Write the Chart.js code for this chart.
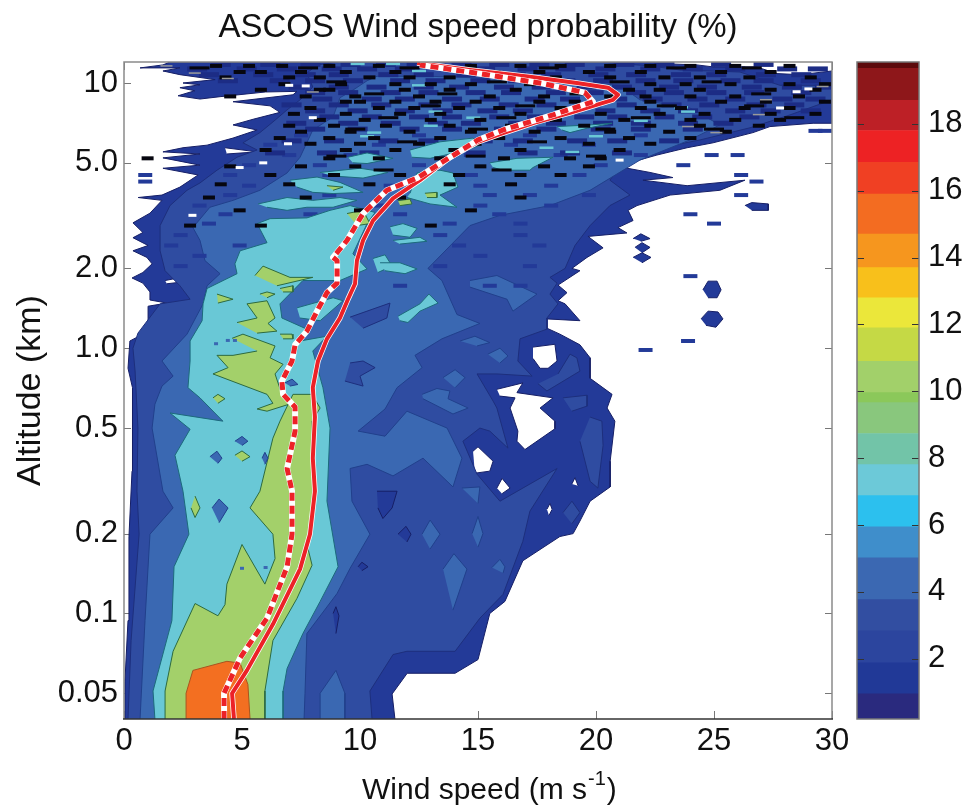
<!DOCTYPE html>
<html><head><meta charset="utf-8">
<style>html,body{margin:0;padding:0;background:#fff;overflow:hidden}canvas{position:absolute;top:0}</style>
<script src="https://cdn.jsdelivr.net/npm/chart.js@4"></script>
</head><body>
<canvas id="main" width="965" height="809" style="left:0"></canvas>
<canvas id="bar" width="115" height="809" style="left:850px"></canvas>
<script>
// ---------- axis labels ----------
const titleText = 'ASCOS Wind speed probability (%)';
const xTitleMain = 'Wind speed (m s';
const xTitleSup = '-1';
const xTitleEnd = ')';
const yTitle = 'Altitude (km)';
const altitudeTicks = [0.05,0.1,0.2,0.5,1,2,5,10];
const altitudeLabels = ['0.05','0.1','0.2','0.5','1.0','2.0','5.0','10'];
const windTicks = [0,5,10,15,20,25,30];

// ---------- colour bar ----------
const barBounds = [0.2,0.95,1.88,2.84,3.77,5.02,5.95,6.88,7.81,8.74,9.66,9.96,10.9,11.9,12.8,13.7,14.7,15.9,16.85,17.8,18.7,19.66,19.85];
const barColors = ['#2a2a7e','#213997','#2c459e','#324ea1','#3b68b2','#3f8ecb','#2cc0ee','#6cc9d8','#72c4a8','#89c77d','#8bc85a','#a2d06a','#c5d945','#ebe73a','#f8c01b','#f6961e','#f36c21','#f04023','#ed2224','#bd2026','#8e171a','#5c0a0c'];
const barTicks = [2,4,6,8,10,12,14,16,18];

// ---------- mean wind profiles [wind m/s, altitude km] ----------
const solidProfile = [[4.66,.04],[4.58,.05],[5.21,.061],[6.31,.091],[7.46,.147],[7.88,.199],[8.09,.289],[8,.385],[8.09,.55],[8,.71],[8.22,.895],[8.6,1.085],[9.15,1.3],[9.49,1.53],[9.79,1.75],[9.87,2.14],[10.13,2.55],[10.55,3.03],[11.4,3.67],[12.54,4.3],[13.81,5.25],[15,6],[16.06,6.47],[17.5,7.13],[18.9,7.72],[20.72,8.64],[20.93,9.03],[20.51,9.6],[19.19,10],[17.2,10.55],[14.66,11.2],[12.42,11.9]];
const dashedProfile = [[4.24,.04],[4.24,.05],[4.92,.068],[6.06,.096],[6.91,.15],[7.12,.199],[7.12,.289],[6.91,.352],[7.25,.487],[7.25,.6],[6.74,.67],[6.69,.752],[7.12,.895],[7.25,1.03],[7.75,1.16],[8.18,1.38],[8.6,1.62],[9.03,1.76],[9.03,2.14],[8.86,2.2],[9.45,2.55],[10.13,3.22],[11.14,3.94],[12.42,4.38],[13.39,4.97],[15,6.1],[16.06,6.65],[18.18,7.58],[19.87,8.5],[19.53,9.2],[17.75,9.95],[15.38,10.75],[12.54,11.7]];

// ---------- contour outlines [wind m/s, altitude km] ----------
const level1 = [[0,.04],[.04,.0555],[.17,.094],[.21,.195],[.34,.344],[.38,.5],[.34,.71],[.17,.84],[.25,1.065],[.8,1.13],[1.02,1.27],[1.02,1.44],[1.82,1.48],[1.1,1.52],[1.1,1.63],[.8,1.76],[.34,1.84],[.8,1.93],[1.19,2.08],[.97,2.2],[.38,2.33],[1.02,2.44],[.38,2.61],[.8,2.73],[.38,2.97],[1.1,3.23],[1.61,3.61],[.6,3.7],[1.61,3.78],[2.37,4.05],[3.14,4.5],[1.65,4.77],[3.22,4.9],[1.65,5.22],[3.22,5.4],[1.65,5.5],[2.5,5.7],[3.52,5.83],[4.62,6.2],[5.64,6.65],[4.62,6.95],[5.47,7.3],[6.61,7.75],[6.19,8.2],[4.62,8.5],[7.16,9.03],[7.33,9.3],[6,9.25],[4.07,8.88],[3.22,8.7],[2.29,8.95],[3,9.35],[2.37,9.6],[3.22,9.85],[2.5,10],[3.86,10.3],[2.37,10.75],[1.65,11.1],[2.37,11.4],[.68,11.4],[1.65,11.7],[1.95,12],[22.58,12],[22.58,11.85],[24.28,11.7],[24.96,11.5],[26.8,11.5],[27.67,10.85],[28.64,10.75],[30,11.1],[30,7.05],[29.2,7.05],[27.37,6.85],[26.65,6.5],[24.96,5.95],[23.86,5.7],[22.58,5.35],[20.89,4.85],[22.29,4.6],[23.26,4.4],[21.99,4.3],[23.86,4.1],[26.31,4.3],[25.25,3.94],[23.14,3.78],[21.74,3.45],[21.36,3.31],[21.57,3.03],[20.93,2.85],[21.31,2.72],[19.66,2.64],[20.3,2.39],[19.62,2.2],[18.98,2],[19.32,1.96],[18.39,1.73],[18.77,1.62],[18.39,1.51],[18.69,1.47],[19.32,1.27],[17.92,1.29],[17.92,1.19],[18.47,1.13],[19.32,1.03],[19.75,.92],[19.75,.77],[20.68,.67],[20.47,.595],[20.8,.531],[20.6,.375],[20.6,.3],[19.75,.265],[19.32,.223],[19.03,.2],[18.47,.195],[16.9,.158],[16.14,.111],[15.5,.1],[15,.067],[14.03,.0595],[12,.0595],[11.36,.0497],[11.48,.04]];
const level1Blobs = [
 [[24.53,1.66],[24.75,1.79],[25.13,1.79],[25.3,1.66],[25.13,1.55],[24.75,1.55]],
 [[24.45,1.29],[24.75,1.38],[25.17,1.37],[25.38,1.29],[25.08,1.2],[24.66,1.22]],
 [[21.57,2.59],[21.9,2.7],[22.29,2.59],[21.9,2.53]],
 [[21.65,2.4],[21.95,2.5],[22.29,2.4],[21.95,2.29]],
 [[21.57,2.2],[21.95,2.29],[22.33,2.2],[21.95,2.1]],
 [[26.31,3.45],[26.6,3.54],[27.3,3.5],[27.3,3.31],[26.6,3.31]]
];
const emptyHoles = [
 [[17.33,1.01],[18.26,1.035],[18.35,.895],[17.97,.84],[17.63,.84],[17.33,.915]],
 [[15.8,.7],[16.9,.74],[16.65,.68],[18.18,.65],[17.63,.595],[18.26,.531],[18.26,.497],[16.99,.415],[16.65,.446],[16.69,.487],[16.36,.595],[16.57,.65],[15.93,.66]],
 [[14.79,.409],[15,.425],[15.64,.375],[15.5,.344],[14.87,.338]],
 [[15.8,.297],[16.02,.323],[16.36,.297],[16.02,.283]],
 [[18.98,.308],[19.11,.325],[19.24,.303]],
 [[17.92,.247],[18.05,.26],[18.14,.247],[18.01,.234]],
 [[1.74,1.8],[2.29,1.84],[2.29,1.77],[1.82,1.75]],
 [[4.28,5.7],[5.64,5.5],[4.36,5.4]]
];
const level2 = [[.17,.04],[.3,.079],[.64,.199],[.55,.289],[.59,.5],[.47,.82],[.38,1],[.59,1.14],[1.53,1.47],[2.8,1.53],[2.37,1.72],[1.74,1.96],[1.53,2.33],[1.53,2.9],[1.95,3.45],[2.67,3.94],[3.22,4.2],[3.94,4.69],[4.79,5.25],[5.64,5.59],[5.04,5.95],[5.76,6.5],[6.31,7.13],[6.91,7.92],[7.46,8.64],[8,9.65],[7.75,10.9],[8.18,11.7],[9.15,12],[20.17,12],[22.29,11.6],[23.56,11.2],[26.1,11],[27.8,9.8],[30,9.8],[30,8.64],[28.22,7.58],[26.53,6.78],[24.41,6.1],[22.29,5.59],[21.02,4.9],[20.59,4.3],[21.44,3.78],[20.59,3.45],[19.75,2.9],[19.11,2.44],[18.69,2],[18.05,1.85],[18.35,1.76],[18.05,1.6],[18.39,1.47],[17.92,1.3],[17.92,1.18],[16.78,1.085],[16.69,.895],[17.29,.785],[15.8,.8],[14.96,.8],[15.64,.632],[15.8,.595],[16.27,.42],[15.5,.487],[15.08,.5],[14.36,.446],[14.96,.335],[15.93,.265],[18.35,.352],[17.2,.243],[16.9,.187],[16.06,.118],[15.08,.096],[14.03,.072],[11.99,.072],[11.4,.07],[10.42,.051],[10.51,.04]];
const level2Patches = [
 [[19.75,.55],[20.25,.531],[20.3,.43],[20.08,.297],[19.75,.315],[19.32,.446]],
 [[17.54,.735],[17.92,.69],[19.32,.82],[19.19,.92],[18.9,.95],[18.39,.8]],
 [[18.6,.65],[19.62,.665],[19.62,.605],[18.98,.579]],
 [[18.6,.24],[18.98,.265],[19.32,.24],[18.98,.218]]
];
const level1Islands = [
 [[10.72,.289],[11.57,.289],[11.36,.25],[10.97,.228],[10.76,.25]],
 [[11.14,.446],[11.69,.477],[12.33,.409],[11.99,.357],[11.48,.393]],
 [[11.61,.199],[11.95,.213],[12.16,.199],[11.99,.186]],
 [[9.92,.15],[10.08,.156],[10.34,.15],[10.08,.145]],
 [[8.86,.1],[8.98,.106],[9.11,.098],[8.98,.084]]
];
const level3 = [[.68,.04],[.89,.094],[1.1,.199],[2.08,.25],[1.65,.289],[1.19,.5],[1.31,.615],[1.61,.72],[2.08,.785],[1.61,.895],[2.67,1.13],[3.35,1.47],[3.52,1.72],[4.07,1.91],[3.43,2.14],[3.22,2.55],[2.92,2.85],[3.64,3.4],[4.62,3.61],[5.76,3.94],[6.91,4.58],[7.46,5.25],[8,6.65],[8.86,7.45],[9.15,8.8],[9.7,9.4],[10.3,10.2],[10.72,10.6],[12.97,10.6],[18.47,10.2],[21.02,9.8],[21.86,8.64],[23.98,8.05],[25.25,6.95],[23.98,6.1],[21.86,5.12],[19.75,3.94],[18.05,3.45],[15.93,3.17],[14.66,2.9],[12.88,2],[13.47,1.8],[14.11,1.34],[15.08,1.24],[13.47,1.085],[12.33,.94],[12.63,.845],[11.57,.71],[11.06,.59],[9.92,.487],[11.06,.466],[11.99,.579],[13.69,.5],[14.32,.385],[13.94,.3],[12.67,.385],[11.4,.33],[10.3,.365],[9.58,.352],[9.66,.265],[10.42,.199],[9.58,.148],[9.03,.119],[7.75,.084],[7.67,.05],[7.63,.04]];
const level3Patches = [
 [[8.31,.04],[8.31,.05],[8.98,.061],[9.36,.05],[9.36,.04]],
 [[14.66,1.8],[15.8,1.88],[17.5,1.6],[16.48,1.38],[16.23,1.53],[14.66,1.7]],
 [[13.52,.775],[14.03,.83],[14.45,.775],[14.03,.71]],
 [[15.42,.95],[15.93,1],[16.27,.935],[15.93,.88]],
 [[12.63,.67],[13.26,.705],[13.81,.69],[13.73,.645],[14.58,.595],[13.94,.565],[12.67,.645]],
 [[14.24,1.065],[14.87,1.11],[15.5,1.05],[14.96,1.02]],
 [[14.32,.297],[15.08,.3],[15,.26]],
 [[12.63,.199],[12.97,.225],[13.39,.199],[12.97,.175]],
 [[14.75,.2],[15,.232],[15.21,.2],[15,.178]],
 [[13.52,.147],[13.98,.168],[14.53,.147],[13.94,.103]],
 [[15.59,.149],[15.93,.16],[16.14,.15],[16.06,.142]]
];
const level2Islands = [
 [[9.58,1.31],[11.27,1.48],[11.14,1.3],[10.13,1.19]],
 [[9.58,.88],[10.13,.895],[10.64,.845],[10,.785],[10.13,.72],[9.36,.752]]
];
const level4 = [[1.31,.04],[1.23,.051],[2.03,.094],[2.12,.15],[2.75,.199],[2.5,.289],[2.16,.395],[2.8,.495],[1.95,.57],[4.19,.531],[3.22,.65],[2.71,.71],[2.8,.895],[2.8,1.065],[3.31,1.27],[3.35,1.47],[3.52,1.68],[4.79,1.91],[4.7,2.08],[4.92,2.33],[6.06,2.5],[5.64,2.95],[6.19,3.08],[7.75,3.1],[8.73,3.31],[9.58,3.45],[10.64,3.25],[10.3,2.95],[9.7,2.27],[10.3,1.99],[9.15,1.8],[7.58,1.8],[6.61,1.47],[6.69,1.3],[7.75,1.18],[7.46,1.065],[8.6,1.11],[8,.976],[8.43,.71],[8.73,.5],[8.6,.265],[9.07,.15],[8.31,.111],[7.58,.084],[6.91,.062],[6.74,.051],[6.74,.04]];
const level4Patches = [
 [[7.03,4.3],[8.18,4.42],[9.15,4.22],[10.13,3.87],[8.86,3.83],[8,3.87],[7.33,4.05]],
 [[8.31,4.6],[10,4.77],[11.19,4.6],[10.13,4.38],[8.86,4.46]],
 [[9.49,5.25],[10.3,5.45],[11.4,5.2],[10.3,4.97],[9.7,5]],
 [[5.68,3.5],[6.91,3.7],[8,3.61],[9.15,3.7],[9.87,3.61],[8.86,3.4],[7.75,3.4],[6.91,3.31],[6.06,3.4]],
 [[12.12,5.59],[13.39,6],[14.79,6.2],[15.08,5.82],[14.24,5.5],[12.97,5.2],[12.2,5.25]],
 [[15.5,5],[16.65,5.2],[18.18,5.25],[17.33,4.8],[17.2,4.69],[16.06,4.69],[15.64,4.8]],
 [[12.12,3.84],[12.42,4.58],[13.39,4.69],[13.94,4.58],[14.15,4.05],[13.39,3.78],[14.11,3.4],[12.97,3.5],[11.99,3.7]],
 [[11.27,2.87],[11.82,2.95],[12.42,2.83],[12.12,2.62],[11.4,2.67]],
 [[11.4,2.55],[12.54,2.62],[12.84,2.53],[11.69,2.47]],
 [[10.55,2.18],[11.06,2.25],[11.36,2.04],[10.76,1.93]],
 [[11.61,1.32],[12.54,1.47],[12.92,1.6],[13.31,1.48],[12.54,1.38],[12.03,1.25],[11.69,1.27]],
 [[10.85,2.1],[11.69,2.1],[12.42,1.99],[11.91,1.91],[11.06,1.96]],
 [[7.33,1.42],[8.86,1.55],[9.28,1.51],[8.31,1.27],[7.46,1.3]],
 [[18.35,6.85],[19.75,6.95],[20.68,7.05],[19.62,6.75],[18.9,6.5],[18.56,6.65]]
];
const level5 = [[1.74,.04],[1.74,.051],[2.08,.072],[3.01,.109],[3.98,.098],[4.28,.108],[4.36,.129],[5,.182],[5.97,.129],[6.4,.161],[6.31,.199],[5.34,.25],[5.76,.289],[6.31,.458],[6.61,.531],[7.16,.67],[7.97,.67],[8.31,.595],[7.97,.531],[8,.289],[7.8,.175],[7.97,.152],[7.33,.114],[6.31,.079],[5.97,.051],[5.97,.04]];
const level5Patches = [
 [[4.58,1.09],[5.04,1.13],[6.4,1.02],[6.19,.92],[6.74,.87],[6.4,.8],[6.69,.67],[7.12,.62],[6.06,.579],[5.64,.59],[6.31,.62],[6.06,.67],[3.77,.8],[4.41,.845],[3.94,.94],[4.62,.94],[5.64,.976]],
 [[4.79,1.25],[5.64,1.3],[5.21,1.47],[6.06,1.51],[6.4,1.3],[6.1,1.24],[6.48,1.16],[5.64,1.14]],
 [[5.55,1.88],[5.89,2.04],[7.03,1.85],[8,1.85],[6.48,1.72]],
 [[3.94,1.6],[4.62,1.53],[3.98,1.48]],
 [[5.76,1.6],[6.06,1.63],[6.4,1.6],[6.06,1.55]],
 [[6.61,1.68],[7.16,1.72],[7.16,1.63],[6.74,1.63]],
 [[3.77,.65],[3.98,.67],[4.28,.645],[3.98,.62]],
 [[4.7,.395],[5,.41],[5.34,.39],[5,.375]],
 [[6.61,1.13],[7.12,1.13],[7.16,1.085],[6.74,1.085]],
 [[9.45,3.22],[10.13,3.31],[10.42,2.95],[9.87,2.9]],
 [[8.6,4.1],[9.28,4.05],[8.86,3.94]],
 [[12.75,3.84],[13.26,3.87],[13.26,3.7],[12.84,3.7]],
 [[3.01,.277],[3.22,.25],[3.01,.23],[2.84,.25]],
 [[11.61,3.6],[12.12,3.65],[12.2,3.5],[11.7,3.45]]
];
const level3InCyan = [
 [[4.7,.446],[5,.465],[5.25,.446],[5,.43]],
 [[3.64,.39],[3.94,.409],[4.15,.385],[3.98,.368]],
 [[5.85,.385],[5.97,.405],[6.1,.385],[5.97,.365]],
 [[3.73,.25],[4.03,.27],[4.41,.25],[4.03,.22]],
 [[6.82,.74],[7.12,.765],[7.37,.73],[7.03,.72]]
];
const level6 = [[2.63,.04],[2.63,.05],[2.92,.061],[4.36,.066],[4.92,.065],[5.25,.054],[5.34,.04]];

// ---------- fine speckle near the tropopause: [altitude km, [wind m/s ...]] ----------
const blackRows = [
 [11.6,[3.9,5.3,6.7,8.7,10.8,13.4,14.7,16.8,18.5,20.6,22.3,24,25.9,28.2]],
 [11,[4.9,5.8,7.5,9.4,11.5,15.7,17.6,19.7,21.9,25.3,27.4]],
 [10.5,[4.3,7,8.3,10.4,12.1,13.8,16.1,18.3,20.6,22.9,24.4,26.5,29.1]],
 [9.9,[6.8,9.2,11.5,13,14.7,17.2,22.3,23.8,25.7,28.2,29.7]],
 [9.43,[5.8,8.3,8.7,11.9,13.8,16.6,18.9,21.4,22.7,24.4,27.4,29.3]],
 [8.9,[4.5,7.7,9.8,12.5,15.5,17.8,20.6,22.1,24,25.9,28.6]],
 [8.5,[9.4,10,11.5,13.2,14.9,17.6,19.1,22.3,25.3,27.2,29.7]],
 [8.05,[7.9,10.8,12.3,14.2,15.9,18.5,21.9,23.6,26.3,28.2]],
 [7.65,[7.2,9.4,11.7,13.4,16.8,20.2,22.7,24.6,27.4,29.3]],
 [7.26,[8.3,10.2,13,15.1,18.3,21.2,24,25.9,27.8]],
 [6.9,[7,8.9,11.1,13.8,16.4,19.5,22.3,24.4,26.9]],
 [6.55,[7.5,9.6,12.1,14.7,17.4,20.6,23.1,25.5]],
 [6.2,[6.6,8.7,10.6,13.4,15.9,18.5,21.4,24]],
 [5.9,[7.9,10,12.5,14.9,19.7,22.3]],
 [5.59,[6,9.4,11.5,14,16.8,21]],
 [5.2,[1,8.7,10.8,13.4,16.1,18.9,20.2]],
 [4.85,[4.5,7.5,9.8,15.1,17.8,19.7]],
 [4.5,[6.2,8.9,11.7,14.2,16.8,18.5]],
 [4.15,[4.1,7,10.4,13.8,16.4]],
 [3.7,[3.6,7.7,11.7,16.8]],
 [3.31,[4.9,10,14.7]],
 [2.9,[2.8,5.8,13]]
];
const blackLongRows = [
 [11.4,[3.2,7.8,12.1,18,23.4,26.6]],
 [10.1,[9,15.8,21,24.9]],
 [9.1,[10.6,13.7,19.3,27]],
 [8.2,[13,17,23,26.7]],
 [7.4,[11.2,16.2,21.9,28.4]],
 [6.7,[9.8,15,20.4,25]],
 [6,[12,17.5]],
 [5.3,[9,14.9,20]],
 [4.7,[11,16]]
];
const darkRows = [
 [6.35,[7.5,12.5,17.2,21.9]],
 [5.85,[6.2,10.8,16.4,19.7]],
 [5.35,[7,9.6,14.7,18.5,21.9,24.9,26]],
 [4.9,[5.3,8.3,12.5,16.8,20.2,23.7]],
 [4.5,[.9,4.5,8.7,14.7,19.3,26.15]],
 [4.25,[.9,26.8]],
 [4.1,[5.3,11.3,15.1,18.1]],
 [3.78,[4.5,8.7,15.5,17.2,19.7,26.15]],
 [3.45,[3.2,7,10.8,15.1,18.1]],
 [3.2,[4.3,7.9,11.7,15.9,24]],
 [2.95,[3.6,8.7,13.8,16.8,25]],
 [2.67,[2.4,6.2,13.4,16.8]],
 [2.44,[2,4.9,14.2,17.6]],
 [2.23,[3.2,7.5,15.1]],
 [2.04,[2.4,5.3,13.4,17.2]],
 [1.87,[24]],
 [1.72,[11.7,15.5,16.8]],
 [1.065,[23.9]],
 [.985,[22.1]],
 [6.6,[29.3,29.7]]
];
const darkTopRows = [
 [11.75,[4.1,6.2,7.9,9.6,11.1,12.4,14.3,15.9,17.6,19.1,21.2,22.9,25.3,27.1]],
 [11.3,[3.1,5.2,6.9,8.8,10.3,11.9,13.8,15.3,17.1,18.7,20.4,22.3,24.1,25.9,28.1,29.4]],
 [10.75,[3.6,5.9,7.7,9.1,11.2,12.7,14.5,16.6,18.1,20.1,21.7,23.6,25.1,27.2,28.7]],
 [10.2,[4.4,6.6,8.1,9.7,11.7,13.2,15.1,16.7,18.7,20.3,22.1,23.7,25.7,27.1,29.1]],
 [9.65,[7.4,9.1,10.7,12.7,14.2,16.1,17.7,19.6,21.1,23.1,24.7,26.6,28.3,29.7]],
 [9.2,[8.1,9.5,11.3,12.9,14.9,16.4,18.3,19.9,21.7,23.3,25.1,26.7,28.7]],
 [8.7,[8.4,10.5,11.9,13.9,15.5,17.4,18.9,20.9,22.4,24.3,25.9,27.9,29.3]],
 [8.27,[7.1,9.1,10.9,12.9,14.3,16.3,17.9,19.8,21.3,23.2,24.8,26.8,28.4]],
 [7.85,[8.1,9.9,11.9,13.5,15.4,16.9,18.9,20.4,22.3,23.9,25.9,27.4,29.1]],
 [7.45,[8.7,10.5,12.5,13.9,15.9,17.5,19.5,20.9,22.9,24.5,26.5]],
 [7.05,[7.3,9.5,11.3,13.3,14.7,16.7,18.3,20.3,21.9,23.9,25.4]],
 [6.7,[8.1,9.9,12.1,13.9,16.1,17.9,20.2,21.9,24.1]],
 [6.05,[7.1,8.9,11.2,12.9,15.2,16.9,19.2,20.9,23.1]],
 [5.45,[6.4,8.6,10.4,12.6,14.9,17.1,18.9,21.1]]
];
const cyanSpecks = [[23.6,8.1],[23.9,7.8],[21.9,7.2],[20,6.3],[17.9,5.7],[19,5.5],[9.9,11.8],[11.4,11.8],[12.5,9.8],[13.2,7.8],[14.8,7.4],[13,6.9],[10.6,6.5],[10.3,6.3],[12.5,11.1]];
const whiteSpecks = [[4.9,4.8],[5.9,5],[6.95,5.9],[8,7.4],[2.9,3.17],[21,5.12],[27.8,8.05],[28.5,9.27],[29,9.5],[7,9.8],[7.7,9.75]];
const graySpecks = [[26.9,7.6],[23.9,6.85],[25.1,6.5],[27.2,8.65],[29.6,9.7],[1.8,11.6],[3,10.9],[4.4,10.4],[8,9.25]];
const darkDots = [[3.9,1.04],[5,.148],[6,.149],[4.4,1.07],[4.7,1.07]];

// ---------- colours ----------
const C = {L1:'#233a98',L2:'#2f4ca1',L3:'#3a68b2',L4:'#69c8d6',L5:'#a3d06a',L6:'#f36f21',
           e1:'#161f66',e2:'#1d2f7d',e3:'#21408c',e4:'#1c6a7c',e5:'#2d6a40',e6:'#a9551f'};
const fontFamily = '"Liberation Sans",Arial,sans-serif';
const ink = '#111111';

const toPts = arr => arr.map(([x,y]) => ({x,y}));
const rowsToPts = rows => rows.flatMap(([a,ws]) => ws.map(w => ({x:w,y:a})));
const layers = [];
function poly(arr, fill, edge){
  layers.push({data:toPts(arr),showLine:true,fill:'shape',backgroundColor:fill,borderColor:edge,borderWidth:1,pointRadius:0,tension:0});
}
function polys(list, fill, edge){ list.forEach(a => poly(a, fill, edge)); }
function dashes(pts, color, r, w){
  layers.push({data:pts,showLine:false,pointStyle:'line',pointRadius:r,pointBorderWidth:w,pointBorderColor:color,pointBackgroundColor:color});
}
function stroke(arr, color, w, dash){
  layers.push({data:toPts(arr),showLine:true,fill:false,borderColor:color,borderWidth:w,borderDash:dash||[],pointRadius:0,tension:0,borderCapStyle:'butt',borderJoinStyle:'round'});
}

poly(level1, C.L1, C.e1);
polys(level1Blobs, C.L1, C.e1);
polys(emptyHoles, '#ffffff', C.e1);
poly(level2, C.L2, C.e2);
polys(level2Patches, C.L2, C.e2);
polys(level1Islands, C.L1, C.e1);
poly(level3, C.L3, C.e3);
polys(level3Patches, C.L3, C.e3);
polys(level2Islands, C.L2, C.e2);
dashes(rowsToPts(darkRows), C.L1, 7, 4);
dashes(rowsToPts(darkTopRows), '#1c2c85', 10, 5);
poly(level4, C.L4, C.e4);
polys(level4Patches, C.L4, C.e4);
poly(level5, C.L5, C.e5);
polys(level5Patches, C.L5, C.e5);
polys(level3InCyan, C.L3, C.e3);
poly(level6, C.L6, C.e6);
dashes(toPts(darkDots), C.L3, 2, 3);
dashes(toPts(cyanSpecks), C.L4, 7, 2.5);
dashes(rowsToPts(blackRows), '#06060f', 6, 4);
dashes(rowsToPts(blackLongRows), '#06060f', 10, 3);
dashes(toPts(graySpecks), '#9a9a9a', 6, 1.5);
dashes(toPts(whiteSpecks), '#ffffff', 4, 3);
stroke(solidProfile, '#ffffff', 5.5);
stroke(solidProfile, '#ec2227', 4);
stroke(dashedProfile, '#ffffff', 6);
stroke(dashedProfile, '#ec2227', 5, [8,5]);

layers.forEach((d,i) => { d.order = -i; });

const frameGray = '#777777';
const mainFrame = {
  id:'mainFrame',
  beforeDatasetsDraw(chart){
    const {ctx,chartArea:a,scales:{x,y}} = chart;
    ctx.save(); ctx.strokeStyle = frameGray; ctx.lineWidth = 1; ctx.beginPath();
    windTicks.forEach(v => { const p = Math.round(x.getPixelForValue(v))+.5; ctx.moveTo(p,a.bottom); ctx.lineTo(p,a.bottom-8); ctx.moveTo(p,a.top); ctx.lineTo(p,a.top+8); });
    altitudeTicks.forEach(v => { const p = Math.round(y.getPixelForValue(v))+.5; ctx.moveTo(a.left,p); ctx.lineTo(a.left+7,p); ctx.moveTo(a.right,p); ctx.lineTo(a.right-7,p); });
    ctx.stroke(); ctx.restore();
  },
  afterDatasetsDraw(chart){
    const {ctx,chartArea:a} = chart;
    ctx.save(); ctx.lineWidth = 1.5; ctx.strokeStyle = '#8a8a8a'; ctx.beginPath();
    ctx.moveTo(a.left,a.bottom); ctx.lineTo(a.left,a.top); ctx.lineTo(a.right,a.top); ctx.lineTo(a.right,a.bottom); ctx.stroke();
    ctx.strokeStyle = '#333333'; ctx.beginPath(); ctx.moveTo(a.left-1,a.bottom); ctx.lineTo(a.right+1,a.bottom); ctx.stroke();
    ctx.restore();
  },
  afterDraw(chart){
    const {ctx} = chart;
    ctx.save(); ctx.fillStyle = ink; ctx.textBaseline = 'alphabetic'; ctx.textAlign = 'left';
    ctx.font = '30px ' + fontFamily;
    let px = 362;
    ctx.fillText(xTitleMain, px, 799);
    px += ctx.measureText(xTitleMain).width;
    ctx.font = '20px ' + fontFamily;
    ctx.fillText(xTitleSup, px + 1, 785);
    px += ctx.measureText(xTitleSup).width + 2;
    ctx.font = '30px ' + fontFamily;
    ctx.fillText(xTitleEnd, px, 799);
    ctx.restore();
  }
};

new Chart(document.getElementById('main'),{
  type:'scatter',
  data:{datasets:layers},
  plugins:[mainFrame],
  options:{
    responsive:false,animation:false,events:[],
    layout:{padding:{left:0,right:133,top:0,bottom:0}},
    plugins:{
      legend:{display:false},tooltip:{enabled:false},
      title:{display:true,text:titleText,fullSize:false,color:ink,font:{family:fontFamily,size:33,weight:'normal'},padding:{top:8,bottom:14.4}}
    },
    scales:{
      x:{type:'linear',min:0,max:30,
        grid:{display:false,drawTicks:false},border:{display:false},
        afterBuildTicks:s => { s.ticks = windTicks.map(v => ({value:v})); },
        afterFit:s => { s.height = 90; },
        ticks:{autoSkip:false,maxRotation:0,padding:4,color:ink,font:{family:fontFamily,size:31}}
      },
      y:{type:'logarithmic',min:0.04,max:12,
        grid:{display:false,drawTicks:false},border:{display:false},
        afterBuildTicks:s => { s.ticks = altitudeTicks.map(v => ({value:v})); },
        afterFit:s => { s.width = 124; },
        ticks:{autoSkip:false,padding:6,color:ink,callback:v => altitudeLabels[altitudeTicks.indexOf(v)],font:{family:fontFamily,size:31}},
        title:{display:true,text:yTitle,color:ink,font:{family:fontFamily,size:34},padding:{top:10,bottom:0}}
      }
    }
  }
});

const barFrame = {
  id:'barFrame',
  afterDatasetsDraw(chart){
    const {ctx,chartArea:a,scales:{y}} = chart;
    ctx.save(); ctx.strokeStyle = '#333333'; ctx.lineWidth = 1; ctx.beginPath();
    barTicks.forEach(v => { const p = Math.round(y.getPixelForValue(v))+.5; ctx.moveTo(a.left,p); ctx.lineTo(a.left+7,p); ctx.moveTo(a.right,p); ctx.lineTo(a.right-7,p); });
    ctx.stroke();
    ctx.strokeStyle = frameGray; ctx.lineWidth = 1.5; ctx.strokeRect(a.left,a.top,a.right-a.left,a.bottom-a.top);
    ctx.restore();
  }
};
new Chart(document.getElementById('bar'),{
  type:'bar',
  data:{labels:[''],datasets:barColors.map((c,i) => ({data:[[barBounds[i],barBounds[i+1]]],backgroundColor:c,borderWidth:0,barPercentage:1,categoryPercentage:1,grouped:false}))},
  plugins:[barFrame],
  options:{
    responsive:false,animation:false,events:[],
    layout:{padding:{left:7,right:0,top:62,bottom:90}},
    plugins:{legend:{display:false},tooltip:{enabled:false}},
    scales:{
      x:{display:false,grid:{display:false}},
      y:{type:'linear',position:'right',min:0.2,max:19.85,
        grid:{display:false,drawTicks:false},border:{display:false},
        afterBuildTicks:s => { s.ticks = barTicks.map(v => ({value:v})); },
        afterFit:s => { s.width = 46; },
        ticks:{autoSkip:false,padding:9,color:ink,font:{family:fontFamily,size:31}}
      }
    }
  }
});
</script>
</body></html>
